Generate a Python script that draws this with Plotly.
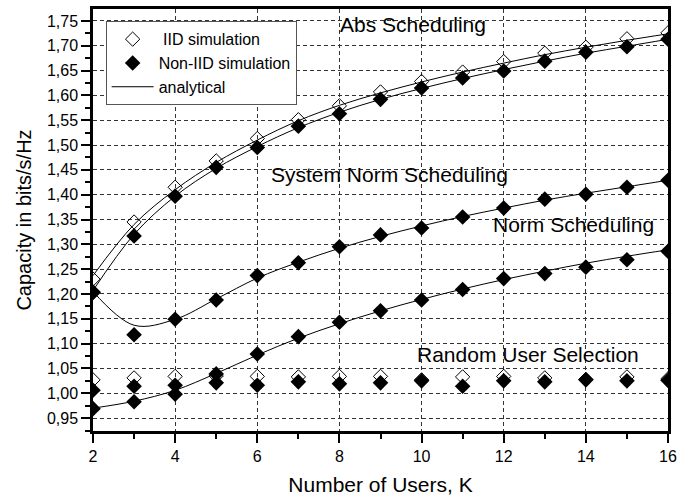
import plotly.graph_objects as go

K = list(range(2, 17))

# Abs scheduling
abs_iid_sim = [1.230, 1.345, 1.415, 1.468, 1.513, 1.551, 1.579, 1.607, 1.628, 1.647, 1.668, 1.685, 1.697, 1.714, 1.726]
abs_noniid_sim = [1.204, 1.317, 1.397, 1.455, 1.495, 1.538, 1.563, 1.592, 1.615, 1.635, 1.649, 1.669, 1.687, 1.698, 1.713]
abs_iid_ana = [1.237, 1.340, 1.410, 1.465, 1.510, 1.549, 1.580, 1.605, 1.627, 1.647, 1.665, 1.682, 1.697, 1.711, 1.724]
abs_noniid_ana = [1.207, 1.320, 1.397, 1.453, 1.497, 1.535, 1.566, 1.592, 1.614, 1.634, 1.652, 1.669, 1.685, 1.699, 1.713]

# System norm scheduling (non-IID)
sysnorm_sim = [1.203, 1.118, 1.149, 1.188, 1.237, 1.263, 1.295, 1.319, 1.333, 1.355, 1.373, 1.391, 1.401, 1.415, 1.429]
sysnorm_ana = [1.205, 1.137, 1.149, 1.190, 1.232, 1.264, 1.292, 1.316, 1.337, 1.356, 1.373, 1.389, 1.403, 1.416, 1.429]

# Norm scheduling (non-IID)
norm_sim = [0.969, 0.983, 0.998, 1.039, 1.079, 1.114, 1.143, 1.166, 1.188, 1.209, 1.231, 1.241, 1.254, 1.269, 1.286]
norm_ana = [0.970, 0.984, 1.006, 1.040, 1.077, 1.111, 1.140, 1.166, 1.189, 1.210, 1.229, 1.246, 1.262, 1.276, 1.289]

# Random user selection
rand_iid_sim = [1.027, 1.031, 1.034, 1.035, 1.034, 1.033, 1.034, 1.034, 1.027, 1.033, 1.034, 1.031, 1.028, 1.033, 1.029]
rand_noniid_sim = [1.006, 1.014, 1.016, 1.021, 1.016, 1.023, 1.019, 1.021, 1.025, 1.014, 1.025, 1.023, 1.027, 1.025, 1.026]

x_ticks = [2, 4, 6, 8, 10, 12, 14, 16]

labels = ["Abs Scheduling", "System Norm Scheduling", "Norm Scheduling", "Random User Selection"]
label_x = [9.78, 9.21, 13.69, 12.59]
label_y = [1.743, 1.441, 1.339, 1.079]

FONT = "Liberation Sans, Arial, sans-serif"

fig = go.Figure()

line_style = dict(color="black", width=1, shape="spline", smoothing=1.0)
first = True
for ana in [abs_iid_ana, abs_noniid_ana, sysnorm_ana, norm_ana]:
    fig.add_trace(go.Scatter(x=K, y=ana, mode="lines", line=line_style,
                             name="analytical", legendgroup="ana",
                             showlegend=first, legendrank=3))
    first = False

first = True
for sim in [abs_iid_sim, rand_iid_sim]:
    fig.add_trace(go.Scatter(x=K, y=sim, mode="markers",
                             marker=dict(symbol="diamond-open", size=11, color="black",
                                         line=dict(width=1, color="black")),
                             name=" IID simulation", legendgroup="iid",
                             showlegend=first, legendrank=1))
    first = False

first = True
for sim in [abs_noniid_sim, sysnorm_sim, norm_sim, rand_noniid_sim]:
    fig.add_trace(go.Scatter(x=K, y=sim, mode="markers",
                             marker=dict(symbol="diamond", size=12, color="black",
                                         line=dict(width=0)),
                             name="Non-IID simulation", legendgroup="noniid",
                             showlegend=first, legendrank=2))
    first = False

ann_font = dict(family=FONT, size=21, color="black")
for text, ax, ay in zip(labels, label_x, label_y):
    fig.add_annotation(x=ax, y=ay, text=text, showarrow=False, font=ann_font,
                       xanchor="center", yanchor="middle")

axis_common = dict(
    showline=True, linewidth=2.5, linecolor="black", mirror=True,
    ticks="outside", ticklen=9, tickwidth=1.5, tickcolor="black",
    showgrid=True, gridcolor="#333333", gridwidth=1, griddash="4px,3px",
    zeroline=False,
    tickfont=dict(family=FONT, size=16, color="black"),
)

fig.update_xaxes(
    **axis_common,
    range=[2, 16],
    tickvals=x_ticks,
    title=dict(text="Number of Users, K", font=dict(family=FONT, size=21, color="black"), standoff=14),
    minor=dict(dtick=1, tick0=2, ticklen=5, tickwidth=1.5, tickcolor="black", ticks="outside", showgrid=False),
)
fig.update_yaxes(
    **axis_common,
    range=[0.924, 1.774],
    dtick=0.05, tick0=0.95,
    tickformat=".2f",
    title=dict(text="Capacity in bits/s/Hz", font=dict(family=FONT, size=20, color="black"), standoff=10),
    minor=dict(dtick=0.025, tick0=0.95, ticklen=5, tickwidth=1.5, tickcolor="black", ticks="outside", showgrid=False),
)

fig.update_layout(
    width=694, height=500,
    margin=dict(l=93, r=26, t=6, b=69),
    plot_bgcolor="white", paper_bgcolor="white",
    separators=", ",
    font=dict(family=FONT, color="black"),
    legend=dict(x=0.022, y=0.971, xanchor="left", yanchor="top",
                bgcolor="white", bordercolor="#555555", borderwidth=1,
                font=dict(family=FONT, size=16, color="black"),
                itemwidth=42, tracegroupgap=0, traceorder="normal"),
)

fig.write_html("out.html")
